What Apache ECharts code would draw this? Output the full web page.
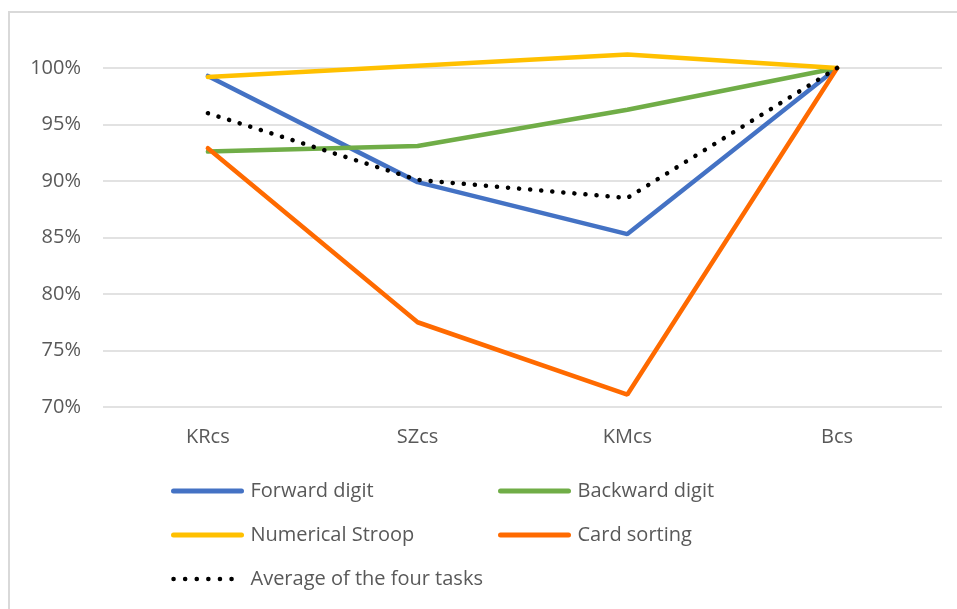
<!DOCTYPE html>
<html><head><meta charset="utf-8">
<script src="https://cdn.jsdelivr.net/npm/echarts@6/dist/echarts.min.js"></script>
<style>html,body{margin:0;padding:0;background:#fff}#c{width:957px;height:609px}</style>
</head><body><div id="c"></div>
<script>
const categories = ['KRcs', 'SZcs', 'KMcs', 'Bcs'];
const forwardDigit = [99.3, 89.9, 85.3, 100];
const backwardDigit = [92.6, 93.1, 96.3, 100];
const numericalStroop = [99.2, 100.2, 101.2, 100];
const cardSorting = [92.9, 77.5, 71.1, 100];
const averageTasks = [96.0, 90.1, 88.5, 100];
const yTicks = { min: 70, max: 100, interval: 5 };

const font = '"Open Sans", Lato, sans-serif';
const chart = echarts.init(document.getElementById('c'));
const colors = {
  'Forward digit': '#4472C4', 'Backward digit': '#70AD47',
  'Numerical Stroop': '#FFC000', 'Card sorting': '#FF6A00', 'Average of the four tasks': '#000000'
};
function line(name, data, extra) {
  const color = colors[name];
  return Object.assign({
    name, type: 'line', data, symbol: 'none', clip: false,
    lineStyle: { color, width: 4.5, cap: 'round' }, itemStyle: { color }
  }, extra || {});
}
function legItem(name) {
  const dotted = name.startsWith('Average');
  return { name, itemStyle: { opacity: 0 },
    lineStyle: dotted ? { color: '#000', width: 4.5, type: [0.1, 11.5], cap: 'round' }
                      : { color: colors[name], width: 5, cap: 'round' } };
}
const legBase = { orient: 'vertical', itemGap: 24, itemWidth: 68, itemHeight: 20,
  textStyle: { color: '#595959', fontSize: 20, fontFamily: font, padding: [0, 0, 0, 4] } };
chart.setOption({
  animation: false,
  graphic: [{ type: 'polyline', shape: { points: [[9, 609], [9, 12], [957, 12]] },
    style: { stroke: '#d9d9d9', lineWidth: 2, fill: null } }],
  grid: { left: 103, right: 15, top: 68, bottom: 202 },
  xAxis: { type: 'category', data: categories, boundaryGap: true,
    axisLine: { show: false }, axisTick: { show: false },
    axisLabel: { color: '#595959', fontSize: 20, fontFamily: font, margin: 20 } },
  yAxis: { type: 'value', min: yTicks.min, max: yTicks.max, interval: yTicks.interval,
    axisLine: { show: false }, axisTick: { show: false },
    splitLine: { lineStyle: { color: '#d9d9d9', width: 1.5 } },
    axisLabel: { color: '#595959', fontSize: 20, fontFamily: font, margin: 22, formatter: v => v + '%' } },
  legend: [
    Object.assign({}, legBase, { left: 166, top: 476,
      data: ['Forward digit', 'Numerical Stroop', 'Average of the four tasks'].map(legItem) }),
    Object.assign({}, legBase, { left: 493, top: 476,
      data: ['Backward digit', 'Card sorting'].map(legItem) })
  ],
  series: [
    line('Forward digit', forwardDigit),
    line('Backward digit', backwardDigit),
    line('Numerical Stroop', numericalStroop),
    line('Card sorting', cardSorting),
    line('Average of the four tasks', averageTasks,
      { lineStyle: { color: '#000', width: 4.5, type: [0.1, 11], cap: 'round' } })
  ]
});
</script></body></html>
